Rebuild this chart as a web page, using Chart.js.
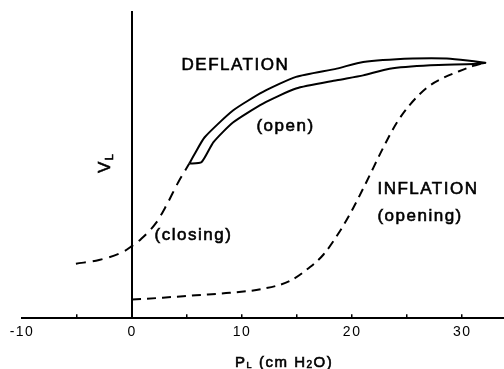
<!DOCTYPE html>
<html>
<head>
<meta charset="utf-8">
<script src="https://cdn.jsdelivr.net/npm/chart.js@4"></script>
<style>
  html, body { margin: 0; padding: 0; background: #fff; }
  #chart { display: block; }
</style>
</head>
<body>
<canvas id="chart" width="504" height="369"></canvas>
<script>
// Pressure-volume loop, values.
// x = transpulmonary pressure PL (cm H2O), y = lung volume on a relative 0-100 scale
const xTickValues = [-10, -5, 0, 5, 10, 15, 20, 25, 30];
const xTickLabels = ['-10', '', '0', '', '10', '', '20', '', '30'];

const deflationUpperX = [5.2, 5.7, 6.6, 9.2, 11.9, 14.9, 18.6, 21.0, 25.5, 28.6, 32.1];
const deflationUpperY = [50.5, 53.7, 59.1, 67.9, 73.9, 78.8, 81.5, 83.7, 84.8, 84.8, 83.4];
const deflationLowerX = [6.3, 7.4, 9.2, 11.9, 14.9, 18.6, 21.0, 23.4, 27.1, 31.0];
const deflationLowerY = [50.9, 57.5, 64.0, 70.1, 75.0, 77.7, 79.3, 81.5, 82.6, 83.0];

const closingX = [-5.1, -3.0, -0.8, 0, 0.8, 2.2, 3.1, 4.2, 5.2];
const closingY = [17.8, 19.0, 21.7, 23.6, 25.8, 31.2, 36.7, 44.4, 50.5];

const inflationX = [0, 2.8, 5.8, 8.9, 11.9, 14.3, 16.1, 17.4, 18.9, 20.1, 21.3, 22.8, 24.0, 25.2, 26.8, 28.3, 30.1, 31.0, 31.8];
const inflationY = [6.1, 6.7, 7.5, 8.3, 9.6, 12.1, 16.5, 20.8, 28.5, 36.0, 44.5, 55.5, 63.5, 69.5, 75.3, 78.5, 81.2, 82.4, 83.2];

const noteTexts = ['DEFLATION', '(open)', '(closing)', 'INFLATION', '(opening)'];
const noteX = [4.5, 11.3, 2.05, 22.3, 22.3];
const noteY = [82.6, 62.6, 27.2, 42.2, 33.2];

const FONT = '"Liberation Sans", Arial, Helvetica, sans-serif';

function pts(xs, ys) {
  return xs.map((x, i) => ({ x: x, y: ys[i] }));
}

// deflation loop: upper branch out to the tip, lower branch back, then closed
const loopPoints = pts(deflationUpperX, deflationUpperY)
  .concat(pts(deflationLowerX, deflationLowerY).reverse())
  .concat([{ x: deflationUpperX[0], y: deflationUpperY[0] }]);

// fill + thin stroke so the text looks as heavy as the scanned original
function boldText(ctx, t, x, y) {
  ctx.fillText(t, x, y);
  ctx.strokeText(t, x, y);
}

const textPlugin = {
  id: 'textPlugin',
  beforeDraw(chart) {
    chart.ctx.letterSpacing = '1.5px';
  },
  afterDatasetsDraw(chart) {
    const { ctx, scales: { x, y } } = chart;
    ctx.save();
    ctx.fillStyle = '#000';
    ctx.strokeStyle = '#000';
    ctx.lineWidth = 0.6;
    ctx.letterSpacing = '1.5px';

    // curve labels
    ctx.font = '17px ' + FONT;
    ctx.textAlign = 'left';
    ctx.textBaseline = 'middle';
    noteTexts.forEach((t, i) => {
      boldText(ctx, t, x.getPixelForValue(noteX[i]), y.getPixelForValue(noteY[i]));
    });

    // y title: V with subscript L, rotated
    ctx.textBaseline = 'alphabetic';
    const ax = x.getPixelForValue(0);
    ctx.save();
    ctx.translate(ax - 22, 173);
    ctx.rotate(-Math.PI / 2);
    ctx.font = '17px ' + FONT;
    boldText(ctx, 'V', 0, 0);
    const wV = ctx.measureText('V').width;
    ctx.font = '11px ' + FONT;
    boldText(ctx, 'L', wV, 3);
    ctx.restore();

    // x title: PL (cm H2O)
    let cx = 235;
    const base = 367;
    ctx.font = '15px ' + FONT;
    boldText(ctx, 'P', cx, base);
    cx += ctx.measureText('P').width;
    ctx.font = '9px ' + FONT;
    boldText(ctx, 'L', cx, base + 1);
    cx += ctx.measureText('L').width + 6;
    ctx.font = '15px ' + FONT;
    boldText(ctx, '(cm H', cx, base);
    cx += ctx.measureText('(cm H').width;
    ctx.font = '10px ' + FONT;
    boldText(ctx, '2', cx, base + 1);
    cx += ctx.measureText('2').width;
    ctx.font = '15px ' + FONT;
    boldText(ctx, 'O)', cx, base);
    ctx.restore();
  }
};

new Chart(document.getElementById('chart'), {
  type: 'line',
  data: {
    datasets: [
      {
        label: 'Deflation (open)',
        data: loopPoints,
        borderColor: '#000',
        borderWidth: 2,
        pointRadius: 0,
        tension: 0.2,
        fill: false
      },
      {
        label: 'Deflation (closing)',
        data: pts(closingX, closingY),
        borderColor: '#000',
        borderWidth: 2,
        borderDash: [10, 7],
        pointRadius: 0,
        cubicInterpolationMode: 'monotone',
        fill: false
      },
      {
        label: 'Inflation (opening)',
        data: pts(inflationX, inflationY),
        borderColor: '#000',
        borderWidth: 2,
        borderDash: [9, 6],
        pointRadius: 0,
        cubicInterpolationMode: 'monotone',
        fill: false
      }
    ]
  },
  options: {
    responsive: false,
    animation: false,
    devicePixelRatio: 1,
    layout: { padding: { left: 22, right: 0, top: 12, bottom: 18 } },
    plugins: {
      legend: { display: false },
      tooltip: { enabled: false }
    },
    scales: {
      x: {
        type: 'linear',
        min: -10,
        max: 33.8,
        afterBuildTicks(scale) {
          scale.ticks = xTickValues.map(v => ({ value: v }));
        },
        ticks: {
          color: '#000',
          font: { family: FONT, size: 14 },
          padding: 10,
          maxRotation: 0,
          autoSkip: false,
          callback(value) {
            const i = xTickValues.indexOf(value);
            return i >= 0 ? xTickLabels[i] : '';
          }
        },
        grid: {
          display: true,
          drawOnChartArea: false,
          drawTicks: true,
          tickLength: -4,
          lineWidth: 1.5,
          color: ctx => (ctx.tick && ctx.tick.value === -10 ? 'rgba(0,0,0,0)' : '#000')
        },
        border: { display: true, color: '#000', width: 2 }
      },
      y: {
        type: 'linear',
        min: 0,
        max: 100,
        position: { x: 0 },
        ticks: { display: false },
        grid: { display: false },
        border: { display: true, color: '#000', width: 2 }
      }
    }
  },
  plugins: [textPlugin]
});
</script>
</body>
</html>
